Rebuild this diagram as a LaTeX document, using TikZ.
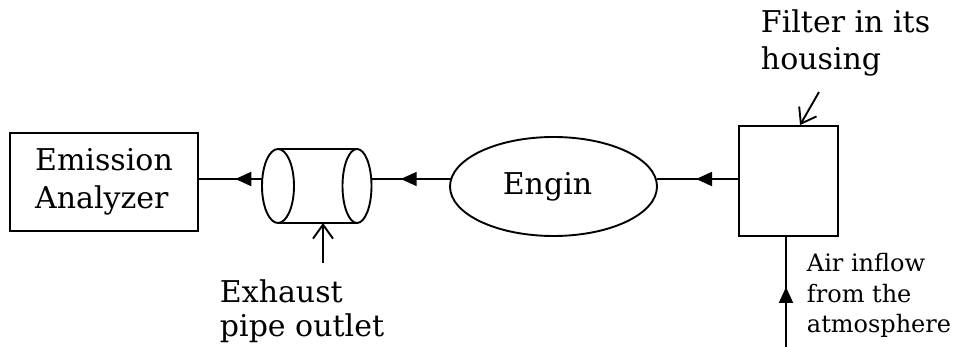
\documentclass[tikz,border=0pt]{standalone}
\usepackage{fontspec}
\setmainfont{DejaVu Serif}
\usetikzlibrary{arrows.meta,decorations.markings,calc,shapes.geometric}
\begin{document}
\begin{tikzpicture}[x=1pt,y=-1pt,line width=1.9pt,
  box/.style={draw,rectangle,inner sep=0pt},
  big/.style={font=\fontsize{30}{37}\selectfont,align=left,inner sep=0pt},
  small/.style={font=\fontsize{24}{30.5}\selectfont,align=left,inner sep=0pt},
  flow/.style={postaction={decorate},decoration={markings,mark=at position #1 with {\arrow{Triangle[length=16pt,width=14pt]}}}},
  pointer/.style={-{Straight Barb[length=14pt,width=20pt]}}
]
\useasboundingbox (0,0) rectangle (959,347);
% Emission analyzer
\node[box,big,minimum width=188pt,minimum height=98pt,font=\fontsize{30}{38}\selectfont] (ana) at (104,182) {Emission\\Analyzer};
% exhaust pipe (cylinder)
\coordinate (pl) at (278,186);
\coordinate (pr) at (357,186);
\draw (pl) ellipse [x radius=16, y radius=37];
\draw (pr) ellipse [x radius=14.5, y radius=37];
\draw ($(pl)+(0,-37)$) -- ($(pr)+(0,-37)$);
\draw ($(pl)+(0,37)$) coordinate (pbl) -- ($(pr)+(0,37)$) coordinate (pbr);
\coordinate (pout) at (262.3,179);
\coordinate (pin) at (371.3,179);
% engine
\node[draw,ellipse,minimum width=207pt,minimum height=99pt,big] (eng) at (553.5,186.5) {Engin\hspace{12pt}};
% filter
\node[box,minimum width=99pt,minimum height=110pt] (fil) at (788.5,181) {};
% flow connectors
\draw[flow=42pt] (fil.west |- pin) -- (eng.4.2 |- pin);
\draw[flow=50pt] (eng.175.8 |- pin) -- (pin);
\draw[flow=27pt] (pout) -- (ana.east |- pout);
\coordinate (air) at (786,347);
\draw[flow=60pt] (air) -- (air |- fil.south);
% labels
\node[big,anchor=base west,font=\fontsize{30}{34}\selectfont] (exh) at (219,337) {Exhaust\\pipe outlet};
\coordinate (exs) at (323,263);
\draw[pointer] (exs) -- (exs |- pbl);
\node[big,anchor=base west] (filt) at (760,70) {Filter in its\\housing};
\coordinate (fs) at (819,92);
\draw[pointer] (fs) -- ($(fil.north west)+(62,0)$);
\node[small,anchor=base west] (airl) at (806,333) {Air inflow\\from the\\atmosphere};
\end{tikzpicture}
\end{document}
